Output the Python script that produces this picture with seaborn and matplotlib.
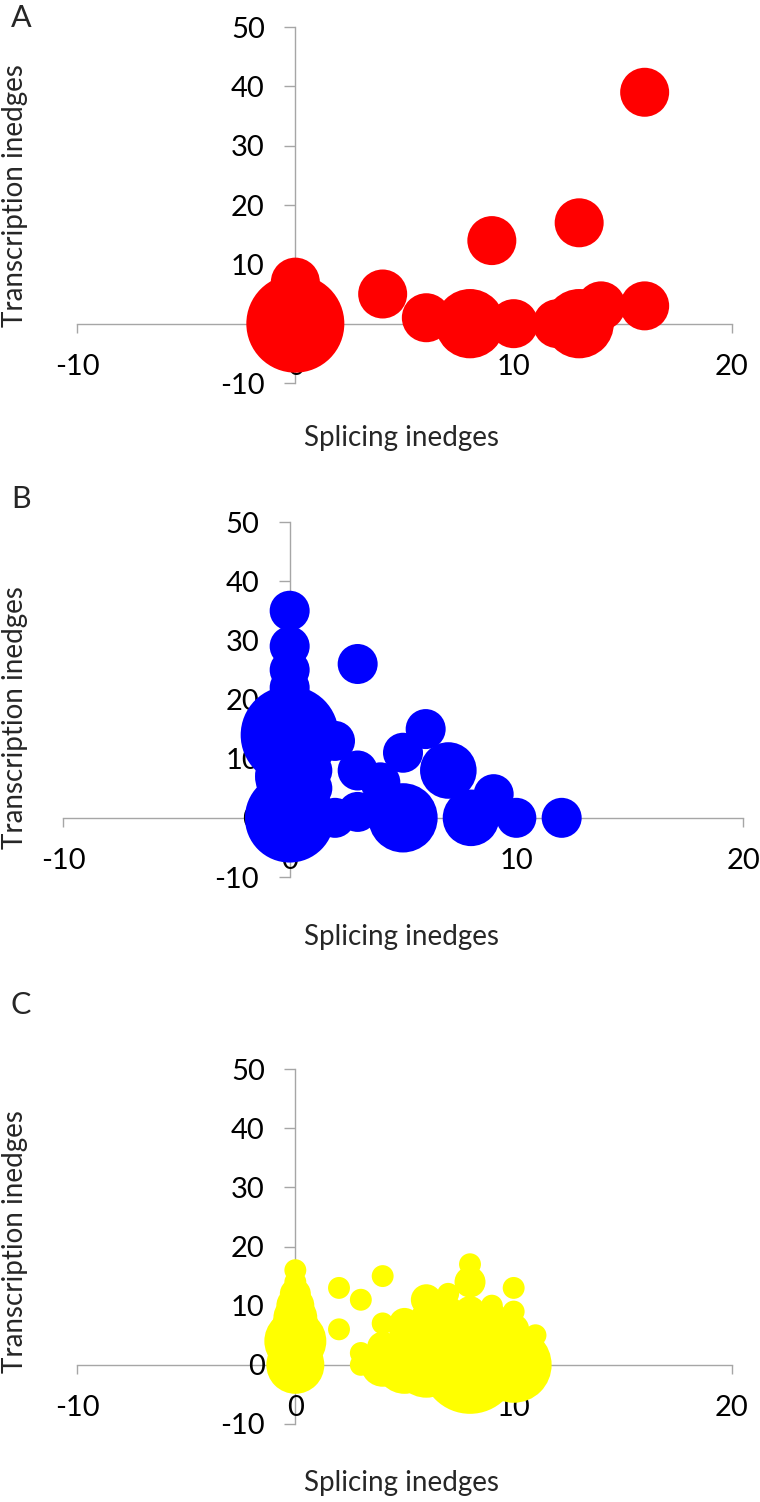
import pandas as pd
import seaborn as sns
import matplotlib.pyplot as plt

# 数据：每个气泡 = (splicing inedges, transcription inedges, 基因数)
# A 面板
a_x = [0, 0, 4, 6, 8, 9, 10, 12, 13, 13, 14, 16, 16]
a_y = [0, 7, 5, 1, 0, 14, 0, 0, 0, 17, 3, 3, 39]
a_n = [4, 1, 1, 1, 2, 1, 1, 1, 2, 1, 1, 1, 1]

# B 面板
b_x = [0, 0, 0, 0, 0, 0, 0, 1, 1, 3, 6, 2, 5, 7, 3, 4, 9, 10, 12, 8, 5, 2, 3]
b_y = [35, 29, 25, 22, 14, 7, 0, 8, 5, 26, 15, 13, 11, 8, 8, 6, 4, 0, 0, 0, 0, 0, 1]
b_n = [1, 1, 1, 1, 6, 3, 5, 1, 1, 1, 1, 1, 1, 2, 1, 1, 1, 1, 1, 2, 3, 1, 1]

# C 面板
c_x = [0, 0, 0, 0, 0, 0, 0, 0,
       2, 3, 4, 2, 4, 3, 3,
       6, 7, 8, 8, 9, 10, 10, 11, 5,
       4, 5, 6, 7, 8, 9, 10,
       4, 5, 6, 7, 8, 9, 10,
       5, 6, 7, 8, 9, 10,
       7, 8, 9, 6]
c_y = [16, 14, 12, 10, 8, 6, 4, 0,
       13, 11, 15, 6, 7, 2, 0,
       11, 12, 14, 17, 10, 13, 9, 5, 7,
       0, 0, 0, 0, 0, 0, 0,
       3, 3, 3, 3, 3, 3, 3,
       6, 6, 6, 6, 6, 6,
       9, 9, 8, 8]
c_n = [1, 1, 2, 3, 4, 5, 8, 7,
       1, 1, 1, 1, 1, 1, 1,
       2, 1, 2, 1, 1, 1, 1, 1, 2,
       4, 7, 9, 10, 20, 10, 12,
       2, 3, 4, 5, 5, 4, 3,
       2, 3, 3, 3, 2, 2,
       2, 2, 2, 2]

x_ticks = [-10, 0, 10, 20]
y_ticks = [-10, 0, 10, 20, 30, 40, 50]

df_a = pd.DataFrame({'splicing': a_x, 'transcription': a_y, 'genes': a_n})
df_b = pd.DataFrame({'splicing': b_x, 'transcription': b_y, 'genes': b_n})
df_c = pd.DataFrame({'splicing': c_x, 'transcription': c_y, 'genes': c_n})

sns.set_style('white')
plt.rcParams['font.family'] = ['Lato', 'DejaVu Sans']
plt.rcParams['axes.unicode_minus'] = False  # 用普通连字符 "-10"

W, H = 760, 1502
fig = plt.figure(figsize=(W / 100, H / 100), dpi=100)

# 每个面板：字母, 数据, 颜色, 绘图区(左, 上, 右, 下 像素), 字母/轴标题的 y 位置
panels = [
    ('A', df_a, '#ff0000', (77, 27, 732, 383), 18, 438, 196),
    ('B', df_b, '#0000ff', (63, 522, 743, 877), 499, 937, 718),
    ('C', df_c, '#ffff00', (77, 1069, 732, 1424), 1005, 1483, 1242),
]

# 最大气泡直径约 98 像素，面积与基因数成正比
smax = (98 * 72 / 100) ** 2
axis_grey = '#a6a6a6'

for letter, df, color, box, ly, xl_y, yl_y in panels:
    left, top, right, bottom = box
    ax = fig.add_axes([left / W, 1 - bottom / H, (right - left) / W, (bottom - top) / H])
    sns.scatterplot(data=df, x='splicing', y='transcription', size='genes',
                    sizes=(0, smax), size_norm=(0, df.genes.max()),
                    color=color, linewidth=0, alpha=1, legend=False, ax=ax)
    ax.set_xlim(-10, 20)
    ax.set_ylim(-10, 50)
    ax.set_xticks(x_ticks)
    ax.set_yticks(y_ticks)
    ax.set_xlabel('')
    ax.set_ylabel('')
    ax.patch.set_alpha(0)
    # 坐标轴交于 0 点，轴线在气泡下面
    ax.spines['top'].set_visible(False)
    ax.spines['right'].set_visible(False)
    ax.spines['left'].set_position(('data', 0))
    ax.spines['bottom'].set_position(('data', 0))
    for s in ['left', 'bottom']:
        ax.spines[s].set_color(axis_grey)
        ax.spines[s].set_linewidth(1)
        ax.spines[s].set_zorder(0.5)
    ax.tick_params(axis='x', bottom=True, direction='out', length=6.5, width=1,
                   color=axis_grey, pad=15.5, labelsize=21, labelcolor='black')
    ax.tick_params(axis='y', left=True, direction='out', length=8, width=1,
                   color=axis_grey, pad=14, labelsize=21, labelcolor='black')

    fig.text(21 / W, 1 - ly / H, letter, fontsize=22, ha='center', va='center')
    fig.text(402 / W, 1 - xl_y / H, 'Splicing inedges', fontsize=20,
             ha='center', va='center')
    fig.text(15 / W, 1 - yl_y / H, 'Transcription inedges', fontsize=20,
             rotation=90, ha='center', va='center')

fig.savefig('out.png', dpi=100)
